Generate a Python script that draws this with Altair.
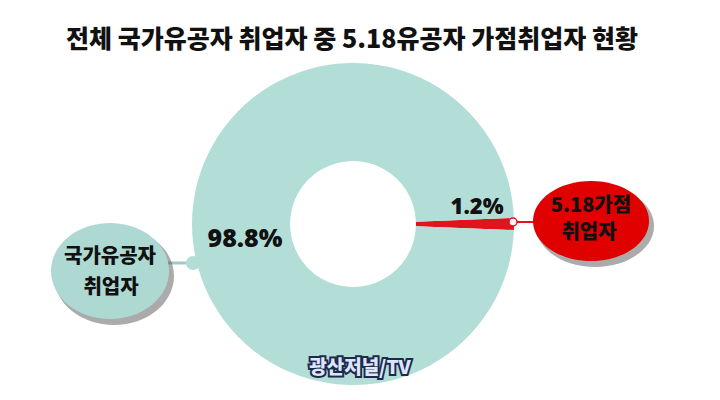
import math
import altair as alt
import pandas as pd

# ---- data ----
categories = ["5.18가점 취업자", "국가유공자 취업자"]
values = [1.2, 98.8]
pct_labels = ["1.2%", "98.8%"]
slice_colors = ["#e0141c", "#b3ddd7"]
title_text = "전체 국가유공자 취업자 중 5.18유공자 가점취업자 현황"
left_label = ["국가유공자", "취업자"]
right_label = ["5.18가점", "취업자"]
watermark = "광산저널/TV"

W, H = 704, 384
OFF = 8  # page margin


def px(v):
    return alt.value(v - OFF)


FONT = "Noto Sans CJK KR"

df = pd.DataFrame({"cat": categories, "value": values, "order": [0, 1]})

half = math.pi * values[0] / 100.0
start = math.pi / 2 - half

cx, cy = 353, 224

donut = alt.Chart(df).mark_arc(radius=161, radius2=63, stroke=None).encode(
    theta=alt.Theta("value:Q", stack=True,
                    scale=alt.Scale(range=[start, start + 2 * math.pi])),
    order=alt.Order("order:Q"),
    color=alt.Color("cat:N", scale=alt.Scale(domain=categories, range=slice_colors), legend=None),
    x=px(cx), y=px(cy),
)

one = pd.DataFrame({"a": [0]})


def ellipse_path(ratio):
    return f"M -1 0 A 1 {ratio} 0 1 1 1 0 A 1 {ratio} 0 1 1 -1 0 Z"


def ellipse(x, y, rx, ry, color, opacity=1.0):
    return alt.Chart(one).mark_point(
        shape=ellipse_path(ry / rx), filled=True, fill=color, opacity=opacity,
        strokeWidth=0, size=(2 * rx) ** 2,
    ).encode(x=px(x), y=px(y))


def text(s, x, y, size, color="#111111", weight=900, font=FONT, **kw):
    return alt.Chart(pd.DataFrame({"t": [s]})).mark_text(
        text=s, fontSize=size, fontWeight=weight, font=font, color=color,
        align="center", baseline="middle", **kw
    ).encode(x=px(x), y=px(y))


def line(x1, x2, y, color, w):
    return alt.Chart(one).mark_rule(color=color, strokeWidth=w).encode(
        x=px(x1), x2=px(x2), y=px(y))


def dot(x, y, r, fill, stroke=None, sw=0):
    kw = dict(filled=True, fill=fill, opacity=1, size=(2 * r) ** 2, shape="circle", strokeWidth=sw)
    if stroke:
        kw["stroke"] = stroke
    return alt.Chart(one).mark_point(**kw).encode(x=px(x), y=px(y))


layers = [
    # connectors
    line(166, 192, 263, "#9ccbc4", 3),
    dot(193, 263, 7, "#b3ddd7"),
    donut,
    line(513, 536, 222, "#e0141c", 2),
    dot(513, 222, 4, "white", "#e0141c", 1.5),
    # shadows
    ellipse(114, 276, 60, 49, "#444444", 0.45),
    ellipse(595, 226, 59, 41, "#444444", 0.45),
    # ellipses
    ellipse(110, 271, 59, 48, "#aed9d2"),
    ellipse(591, 221, 58, 40, "#e00000"),
    # ellipse labels
    text(left_label[0], 110, 257, 20),
    text(left_label[1], 111, 288, 20),
    text(right_label[0], 591, 206, 20),
    text(right_label[1], 589, 233, 20),
    # percentages
    text(pct_labels[1], 245, 239, 25, font="Noto Sans"),
    text(pct_labels[0], 477, 207, 22, font="Noto Sans"),
    # title
    text(title_text, 352, 40, 25),
    # watermark
    text(watermark, 360, 368, 19, color="#dde5ff", stroke="#1e2a4a", strokeWidth=4),
    text(watermark, 360, 368, 19, color="#dde5ff"),
]

chart = alt.layer(*layers).properties(
    width=W, height=H,
    autosize=alt.AutoSizeParams(type="fit", contains="padding"),
    padding=0,
).configure(background="white").configure_view(stroke=None)

chart.save("out.html", embed_options={"renderer": "svg", "actions": False})
